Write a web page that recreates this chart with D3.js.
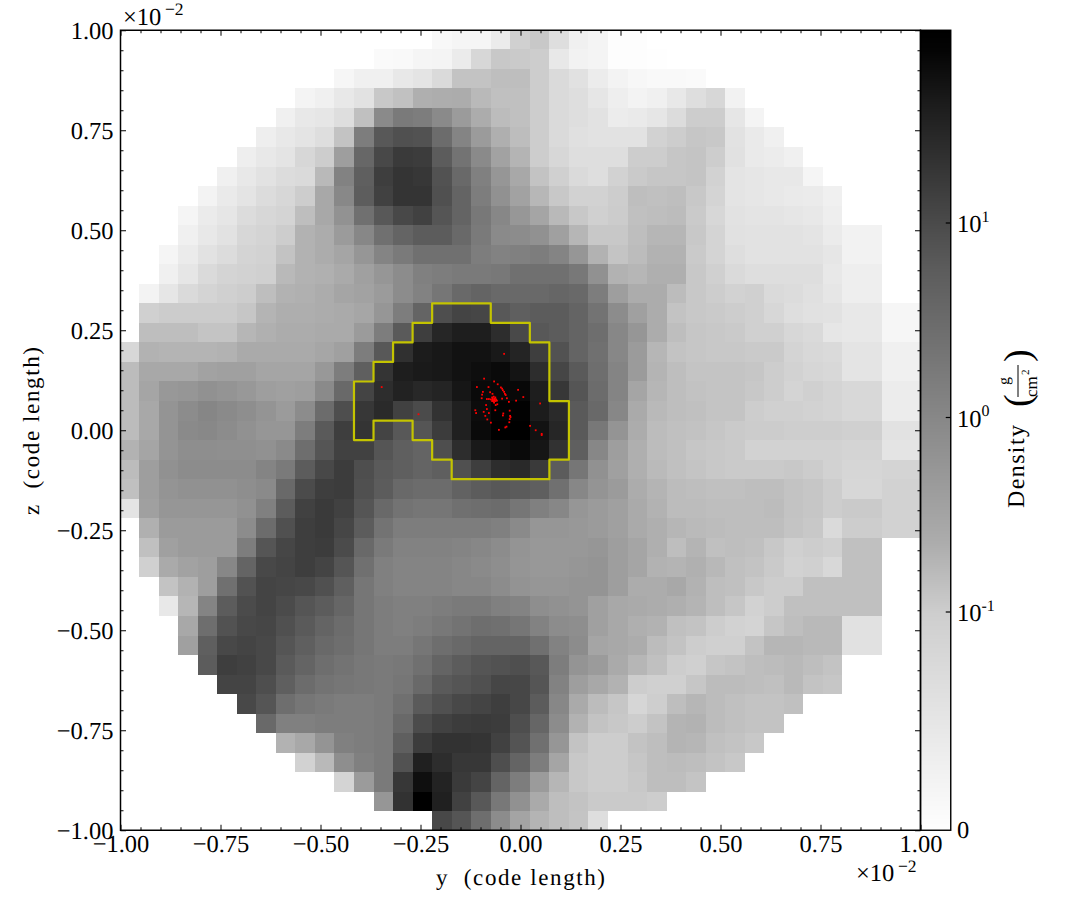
<!DOCTYPE html>
<html>
<head>
<meta charset="utf-8">
<script src="https://cdn.jsdelivr.net/npm/d3@7"></script>
<style>
html,body{margin:0;padding:0;background:#fff}
svg{display:block}
text{font-family:"Liberation Serif",serif;fill:#000;text-rendering:geometricPrecision}
</style>
</head>
<body>
<div id="chart"></div>
<script>
// Shade of each projected-density cell (0 black .. 255 white).
const rowStart = [16,13,11,9,8,7,6,5,4,3,3,2,2,1,1,1,0,0,0,0,0,0,0,0,0,1,1,1,2,2,3,3,4,5,6,7,8,9,11,13,16];
const rowShades = [
[248,245,245,235,208,200,222,240,244,253,253],
[250,249,245,244,235,215,200,202,205,232,242,244,253,253,254],
[246,240,240,232,228,218,195,195,190,190,205,218,225,236,243,247,249,249,250],
[244,240,232,226,200,193,175,173,172,185,192,192,205,218,222,230,238,243,240,232,222,215,242],
[240,232,230,222,192,138,122,125,138,155,172,188,192,205,218,222,226,236,234,230,220,205,205,230,244],
[238,232,228,222,195,125,88,80,82,108,132,155,175,189,205,218,224,226,226,226,210,205,198,200,226,234,240],
[238,232,228,215,205,158,103,72,58,60,92,115,138,162,180,205,215,222,222,222,205,205,198,196,205,225,234,236,240],
[240,232,226,220,218,185,130,95,62,52,55,82,105,128,150,168,195,208,218,222,210,202,198,198,196,210,228,230,232,232,245],
[243,234,228,220,215,205,168,136,93,65,52,52,80,100,125,145,162,183,200,210,210,205,190,192,190,200,212,228,230,232,234,235,240],
[245,235,230,220,215,212,190,168,146,112,88,72,65,85,100,120,135,151,165,185,200,208,204,192,190,188,202,215,226,228,228,230,232,238],
[240,232,226,215,212,205,178,172,155,135,112,100,92,92,105,122,138,140,145,160,182,200,200,190,182,182,200,212,225,226,226,226,228,235,242,242],
[245,235,226,220,212,210,195,178,172,165,150,132,122,112,112,112,125,130,128,125,132,150,178,196,188,178,178,202,212,222,226,226,226,226,230,242,242],
[240,230,218,212,210,208,185,178,176,170,160,150,140,128,125,122,122,120,112,112,112,120,145,178,182,175,175,200,208,218,222,222,222,222,232,238,238],
[243,230,218,212,208,205,190,178,176,172,165,162,155,140,130,118,105,100,105,105,105,102,105,125,158,172,172,188,200,205,210,208,218,220,224,230,238,238],
[208,204,204,204,204,198,180,174,174,172,170,166,150,125,100,78,68,70,88,95,92,92,100,115,140,160,172,195,200,202,205,208,215,222,225,226,232,232,246,246],
[190,190,190,196,196,182,176,172,172,170,170,155,125,90,62,38,30,30,45,73,88,92,100,110,135,150,172,190,198,200,202,208,208,215,218,230,232,232,246,246],
[215,178,180,180,180,178,170,170,170,170,166,160,125,88,48,28,24,18,18,25,36,62,82,100,112,135,155,182,195,198,200,200,202,202,212,216,218,228,228,240,240],
[188,168,168,168,162,160,160,165,165,165,152,125,95,52,30,26,24,18,14,10,20,45,70,90,110,132,155,180,190,196,196,196,198,205,210,214,216,228,228,240,240],
[188,165,152,150,145,148,152,158,160,158,138,105,68,45,34,40,36,22,10,8,8,30,55,85,108,132,165,182,190,194,196,196,200,205,212,208,212,216,216,236,236],
[188,168,148,140,134,138,142,148,155,140,108,78,55,42,65,75,50,32,12,2,2,28,42,90,105,135,170,185,190,192,196,196,205,208,208,210,212,216,216,236,236],
[188,168,148,138,136,140,145,150,150,125,90,62,52,68,88,85,60,32,10,0,0,18,38,90,120,148,172,188,192,194,198,202,204,204,206,206,206,208,208,226,226],
[178,165,148,142,142,143,143,145,138,110,85,65,65,85,95,100,78,45,25,15,10,22,50,95,135,158,175,188,192,198,200,202,210,210,210,210,210,212,212,228,228],
[188,158,145,140,140,140,140,132,122,92,72,60,78,90,95,100,95,80,62,45,41,58,92,118,145,160,175,186,192,196,200,202,202,202,200,204,210,214,214,212,212],
[192,158,148,145,145,145,142,138,105,75,62,60,80,92,105,108,108,98,92,88,91,95,112,135,148,155,172,180,188,190,192,192,190,190,195,198,205,215,215,210,210],
[228,160,150,150,150,150,145,128,92,65,58,65,85,105,115,118,118,112,110,108,118,128,135,150,155,160,170,178,188,188,190,190,190,188,195,198,205,202,202,210,210],
[176,155,155,155,155,140,108,80,62,58,70,92,115,125,125,125,125,125,128,138,150,150,152,155,160,170,175,182,186,188,190,190,190,196,200,218,205,205,210,210],
[192,160,155,155,155,125,85,70,62,60,75,105,122,130,130,130,132,135,140,148,152,152,152,150,158,165,175,190,180,192,190,192,200,208,205,208,192,192],
[208,170,162,158,135,100,72,68,62,68,85,112,128,132,132,132,135,138,142,149,152,152,150,148,158,165,178,180,176,184,192,195,202,210,208,216,192,192],
[195,178,158,112,82,68,70,72,80,95,118,128,132,132,132,135,135,140,147,150,150,148,148,158,172,172,168,178,190,192,200,205,205,192,192,192,192],
[232,182,132,92,75,68,75,85,92,102,118,125,128,128,125,122,122,128,131,142,145,148,160,168,170,172,175,180,190,198,210,205,192,192,192,192,192],
[168,110,82,72,70,80,90,100,108,118,125,128,125,120,115,110,112,118,130,140,142,160,168,175,178,192,195,205,210,212,198,190,185,185,225,225],
[160,95,72,68,72,85,95,105,110,118,125,125,118,110,105,100,100,100,112,130,140,165,168,172,188,195,205,208,208,195,182,182,185,185,225,225],
[92,62,65,72,90,100,110,115,120,122,120,112,100,92,85,82,79,88,125,148,155,170,182,192,205,208,198,195,190,188,185,190,195],
[68,68,78,95,108,115,118,120,122,118,105,90,85,80,70,71,85,130,158,168,178,205,208,208,198,188,188,190,192,185,195,198],
[72,85,110,118,122,125,125,122,112,90,80,72,68,62,71,92,135,170,188,198,214,206,190,182,188,192,195,195,192],
[105,128,128,125,125,125,122,105,75,65,60,58,60,78,102,140,178,195,200,205,195,180,178,188,192,195,195],
[178,168,148,128,125,122,95,60,50,50,52,65,84,112,150,195,205,205,195,190,180,182,192,195,200],
[210,185,142,128,122,82,32,45,55,55,78,100,125,165,200,205,205,198,190,188,190,195,200],
[212,155,122,55,15,35,58,68,100,125,155,182,200,205,205,200,190,190,196],
[150,50,0,32,65,88,120,145,170,190,195,202,202,202,205],
[72,85,110,140,164,180,190,196,222]
];

// Contour outline, as corners on the cell grid (column edge, row edge).
const contourCol = [16,19,19,21,21,22,22,23,23,22,22,17,17,16,16,15,15,13,13,12,12,13,13,14,14,15,15,16,16];
const contourRow = [14,14,15,15,16,16,19,19,22,22,23,23,22,22,21,21,20,20,21,21,18,18,17,17,16,16,15,15,14];

// Particle positions in code length / 1e-2.
const particleY = [-0.041,-0.091,-0.109,-0.094,-0.096,-0.080,-0.076,-0.070,-0.057,-0.066,-0.006,0.007,0.049,-0.011,-0.029,-0.034,-0.046,-0.049,-0.046,-0.044,-0.041,-0.039,-0.037,-0.097,-0.084,-0.079,-0.066,-0.071,-0.067,-0.063,-0.074,-0.070,-0.061,-0.071,-0.067,-0.063,-0.059,-0.066,-0.069,-0.064,-0.065,-0.069,-0.086,-0.062,-0.058,-0.113,-0.111,-0.092,-0.084,-0.079,-0.088,-0.083,-0.074,-0.063,-0.043,-0.044,-0.027,-0.026,-0.025,-0.027,-0.028,-0.038,-0.035,-0.054,0.024,0.038,0.053,0.053,-0.347,-0.255];
const particleZ = [0.191,0.129,0.108,0.096,0.089,0.108,0.095,0.091,0.115,0.122,0.101,0.083,0.067,0.074,0.071,0.080,0.079,0.107,0.104,0.100,0.096,0.091,0.088,0.080,0.078,0.078,0.076,0.082,0.084,0.082,0.077,0.077,0.077,0.073,0.072,0.073,0.074,0.069,0.080,0.079,0.075,0.075,0.063,0.063,0.065,0.050,0.043,0.046,0.053,0.043,0.036,0.027,0.019,0.050,0.042,0.037,0.049,0.036,0.033,0.028,0.020,0.007,0.009,0.001,0.011,0.000,-0.009,-0.012,0.108,0.040];

const majorTicks = [-1,-0.75,-0.5,-0.25,0,0.25,0.5,0.75,1];
const minorTicks = d3.range(-20,21).filter(i=>i%5!==0).map(i=>i/20);
const colorbarTickValues = [0.1,1,10];
const colorbarTickExponents = ["-1","0","1"];
const colorbarFraction = [0,0.025,0.0875,0.24,0.3,0.64,0.73,1];
const colorbarGray = [0,4,26,74,92,172,206,254];

const W=1085,H=920;
const L=120.5,R=920.5,T=30.25,B=830.25;
const CELL=0.04885, ORIGIN=-1.0025, ZORIGIN=1.0012;
const TICKFONT=24.5;

const x=d3.scaleLinear().domain([-1,1]).range([L,R]);
const y=d3.scaleLinear().domain([-1,1]).range([B,T]);
const shade=d3.scaleLinear().domain([255,0]).range(["#ffffff","#000000"]);
const colEdge=k=>x(ORIGIN+k*CELL);
const rowEdge=k=>y(ZORIGIN-k*CELL);

const svg=d3.select("#chart").append("svg").attr("width",W).attr("height",H).attr("viewBox",`0 0 ${W} ${H}`);
svg.append("defs").append("clipPath").attr("id","plotClip").append("rect")
  .attr("x",L).attr("y",T).attr("width",R-L).attr("height",B-T);

const cells=rowShades.flatMap((row,r)=>row.map((v,i)=>({r,c:rowStart[r]+i,v})));
svg.append("g").attr("clip-path","url(#plotClip)").attr("shape-rendering","crispEdges")
  .selectAll("rect").data(cells).join("rect")
  .attr("x",d=>Math.round(colEdge(d.c))).attr("y",d=>Math.round(rowEdge(d.r)))
  .attr("width",d=>Math.round(colEdge(d.c+1))-Math.round(colEdge(d.c)))
  .attr("height",d=>Math.round(rowEdge(d.r+1))-Math.round(rowEdge(d.r)))
  .attr("fill",d=>shade(d.v));

// contour
const contourLine=d3.line().x(d=>colEdge(d[0])).y(d=>rowEdge(d[1]));
svg.append("path").attr("d",contourLine(d3.zip(contourCol,contourRow))+"Z")
  .attr("fill","none").attr("stroke","#c4c400").attr("stroke-width",2.2).attr("stroke-linejoin","round");

// particles
svg.append("g").selectAll("rect").data(d3.zip(particleY,particleZ)).join("rect")
  .attr("x",d=>x(d[0])-0.9).attr("y",d=>y(d[1])-0.9).attr("width",1.8).attr("height",1.8).attr("fill","#ff0000");

// colorbar
const cbL=920.5,cbR=950.75;
const cbPos=d3.scaleLinear().domain([0,1]).range([30,830]);
const cbShade=d3.scaleLinear().domain(colorbarFraction).range(colorbarGray);
svg.append("g").attr("shape-rendering","crispEdges").selectAll("rect").data(d3.range(0,800)).join("rect")
  .attr("x",cbL).attr("width",cbR-cbL)
  .attr("y",d=>cbPos(d/800)).attr("height",1)
  .attr("fill",d=>{const g=Math.round(cbShade(d/800));return d3.rgb(g,g,g).formatHex();});
const cbLog=d3.scaleLog().domain([0.1,10]).range([612,223]);
svg.append("rect").attr("x",cbL).attr("y",T).attr("width",cbR-cbL).attr("height",B-T)
  .attr("fill","none").attr("stroke","#000").attr("stroke-width",1.4);
const cbTicks=svg.append("g");
cbTicks.selectAll("line").data(colorbarTickValues).join("line")
  .attr("x1",cbR-5).attr("x2",cbR).attr("y1",d=>cbLog(d)).attr("y2",d=>cbLog(d))
  .attr("stroke","#000").attr("stroke-width",1.2);
colorbarTickValues.forEach((v,i)=>{
  const yy=cbLog(v)+9;
  cbTicks.append("text").attr("x",957).attr("y",yy).attr("font-size",TICKFONT).text("10");
  cbTicks.append("text").attr("x",981.5).attr("y",yy-10.5).attr("font-size",16).text(colorbarTickExponents[i]);
});
cbTicks.append("text").attr("x",957).attr("y",B+7.5).attr("font-size",TICKFONT).text("0");

// axes
function addAxis(ctor,scale,transform,labels,pad){
  const maj=ctor(scale).tickValues(majorTicks).tickSizeInner(-5.5).tickSizeOuter(0).tickPadding(labels?pad:0)
    .tickFormat(labels?d3.format(".2f"):"");
  const gM=svg.append("g").attr("transform",transform).call(maj);
  const mnr=ctor(scale).tickValues(minorTicks).tickSizeInner(-3).tickSizeOuter(0).tickFormat("");
  const gN=svg.append("g").attr("transform",transform).call(mnr);
  [gM,gN].forEach(g=>{g.select(".domain").remove();g.selectAll("line").attr("stroke","#000").attr("stroke-width",1);});
  gM.selectAll("text").attr("font-size",TICKFONT).attr("font-family",'"Liberation Serif",serif').attr("fill","#000");
  return gM;
}
addAxis(d3.axisBottom,x,`translate(0,${B})`,true,4.5);
addAxis(d3.axisLeft,y,`translate(${L},0)`,true,7);
addAxis(d3.axisTop,x,`translate(0,${T})`,false,0);
addAxis(d3.axisRight,y,`translate(${R},0)`,false,0);
svg.append("rect").attr("x",L).attr("y",T).attr("width",R-L).attr("height",B-T)
  .attr("fill","none").attr("stroke","#000").attr("stroke-width",1.5);

// offset labels
function offset(xp,yp){
  const g=svg.append("g");
  g.append("text").attr("x",xp).attr("y",yp).attr("font-size",TICKFONT).text("×10");
  g.append("text").attr("x",xp+42).attr("y",yp-9.5).attr("font-size",17.5).text("−2");
}
offset(123,24.5);
offset(856,881);

// axis titles
svg.append("text").attr("x",436).attr("y",885).attr("font-size",23).attr("textLength",169).attr("lengthAdjust","spacing")
  .style("white-space","pre").text("y  (code length)");
svg.append("text").attr("transform","translate(39,515) rotate(-90)").attr("font-size",23).attr("textLength",168)
  .attr("lengthAdjust","spacing").style("white-space","pre").text("z  (code length)");

const dens=svg.append("g").attr("transform","translate(1024,508) rotate(-90)");
dens.append("text").attr("x",0).attr("y",0).attr("font-size",24).attr("textLength",83).attr("lengthAdjust","spacing").text("Density");
dens.append("text").attr("x",101).attr("y",6).attr("font-size",38).text("(");
dens.append("text").attr("x",146).attr("y",6).attr("font-size",38).text(")");
dens.append("text").attr("x",127).attr("y",-15).attr("font-size",16).attr("text-anchor","middle").text("g");
dens.append("line").attr("x1",111).attr("x2",143).attr("y1",-6).attr("y2",-6).attr("stroke","#000").attr("stroke-width",1);
dens.append("text").attr("x",111).attr("y",13).attr("font-size",17).text("cm");
dens.append("text").attr("x",133).attr("y",5).attr("font-size",11).text("2");
</script>
</body>
</html>
